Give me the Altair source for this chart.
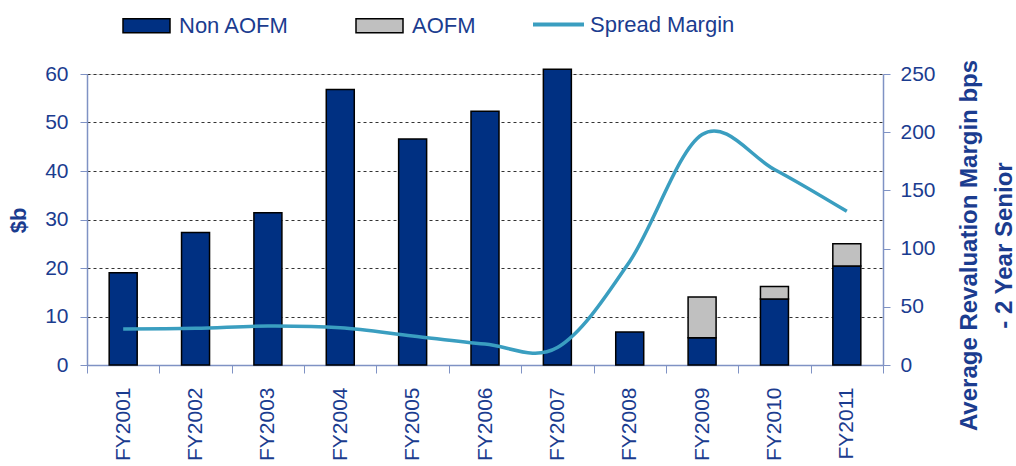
import altair as alt
import pandas as pd

years = ["FY2001", "FY2002", "FY2003", "FY2004", "FY2005", "FY2006",
         "FY2007", "FY2008", "FY2009", "FY2010", "FY2011"]
non_aofm = [19.0, 27.3, 31.4, 56.8, 46.6, 52.3, 61.0, 6.8, 5.6, 13.6, 20.4]
aofm = [0, 0, 0, 0, 0, 0, 0, 0, 8.4, 2.6, 4.6]
spread_margin = [31, 31.5, 33.5, 32, 25, 18, 15, 89, 198, 168, 132]
left_ticks = [0, 10, 20, 30, 40, 50, 60]
right_ticks = [0, 50, 100, 150, 200, 250]

rows = []
for i, yr in enumerate(years):
    rows.append({"year": yr, "series": "Non AOFM", "value": non_aofm[i], "order": 0})
    if aofm[i] > 0:
        rows.append({"year": yr, "series": "AOFM", "value": aofm[i], "order": 1})
bars_df = pd.DataFrame(rows)
line_df = pd.DataFrame({"year": years, "series": ["Spread Margin"] * len(years),
                        "spread": spread_margin})

NAVY = "#1B3C8F"
AXIS_COL = "#7F92C4"
FONT = "Liberation Sans"

x_enc = alt.X(
    "year:N", sort=years, title=None,
    scale=alt.Scale(paddingInner=0, paddingOuter=0),
    axis=alt.Axis(labelAngle=270, labelAlign="right", labelBaseline="middle",
                  labelFontSize=21, labelColor=NAVY, labelFont=FONT, labelPadding=14,
                  tickBand="extent", ticks=True, tickSize=8, tickColor=AXIS_COL,
                  domainColor=AXIS_COL, domainWidth=1.5, grid=False),
)

bars = alt.Chart(bars_df).mark_bar(size=28, stroke="black", strokeWidth=1.5).encode(
    x=x_enc,
    y=alt.Y("value:Q", stack="zero",
            scale=alt.Scale(domain=[0, 60], nice=False, zero=True),
            axis=alt.Axis(values=left_ticks, title="$b", titleAngle=270,
                          titleX=-79, titleY=146, titleAlign="center", titleBaseline="top",
                          titleFontSize=22, titleFontWeight="bold", titleColor=NAVY,
                          titleFont=FONT,
                          labelFontSize=21, labelColor=NAVY, labelFont=FONT, labelPadding=12,
                          tickSize=7, tickColor=AXIS_COL, domainColor=AXIS_COL,
                          domainWidth=1.5, grid=True, gridDash=[3, 3],
                          gridColor="#333333", gridWidth=1)),
    fill=alt.Fill("series:N",
                  scale=alt.Scale(domain=["Non AOFM", "AOFM"], range=["#003082", "#C0C0C0"]),
                  legend=alt.Legend(orient="none", legendX=35, legendY=-73,
                                    direction="horizontal", title=None, padding=0,
                                    symbolType="M-1,-0.3H1V0.3H-1Z", symbolSize=2209,
                                    symbolStrokeColor="black", symbolStrokeWidth=1.5,
                                    labelFontSize=22, labelColor=NAVY, labelFont=FONT,
                                    labelOffset=8, columnPadding=63)),
    order=alt.Order("order:Q"),
)

line = alt.Chart(line_df).mark_line(interpolate="cardinal", strokeWidth=3.5).encode(
    x=x_enc,
    y=alt.Y("spread:Q", scale=alt.Scale(domain=[0, 250], nice=False),
            axis=alt.Axis(orient="right", values=right_ticks,
                          title=["Average Revaluation Margin bps", "- 2 Year Senior"],
                          titleAngle=270, titleX=74, titleY=171, titleAlign="center",
                          titleBaseline="top", titleLineHeight=35,
                          titleFontSize=24, titleFontWeight="bold", titleColor=NAVY,
                          titleFont=FONT,
                          labelFontSize=21, labelColor=NAVY, labelFont=FONT, labelPadding=10,
                          tickSize=7, tickColor=AXIS_COL, domainColor=AXIS_COL,
                          domainWidth=1.5, grid=False)),
    stroke=alt.Stroke("series:N",
                      scale=alt.Scale(domain=["Spread Margin"], range=["#3A9EC0"]),
                      legend=alt.Legend(orient="none", legendX=444, legendY=-77,
                                        title=None, padding=0, symbolType="stroke",
                                        symbolSize=2601, symbolStrokeWidth=4,
                                        labelFontSize=22, labelColor=NAVY, labelFont=FONT,
                                        labelOffset=4)),
)

chart = alt.layer(bars, line).resolve_scale(y="independent").properties(
    width=796, height=291,
    autosize=alt.AutoSizeParams(type="none"),
    padding={"left": 87, "top": 74, "right": 133, "bottom": 101},
).configure_view(stroke=None).configure(background="white")

chart.save("out.html", embed_options={"renderer": "svg", "actions": False})
